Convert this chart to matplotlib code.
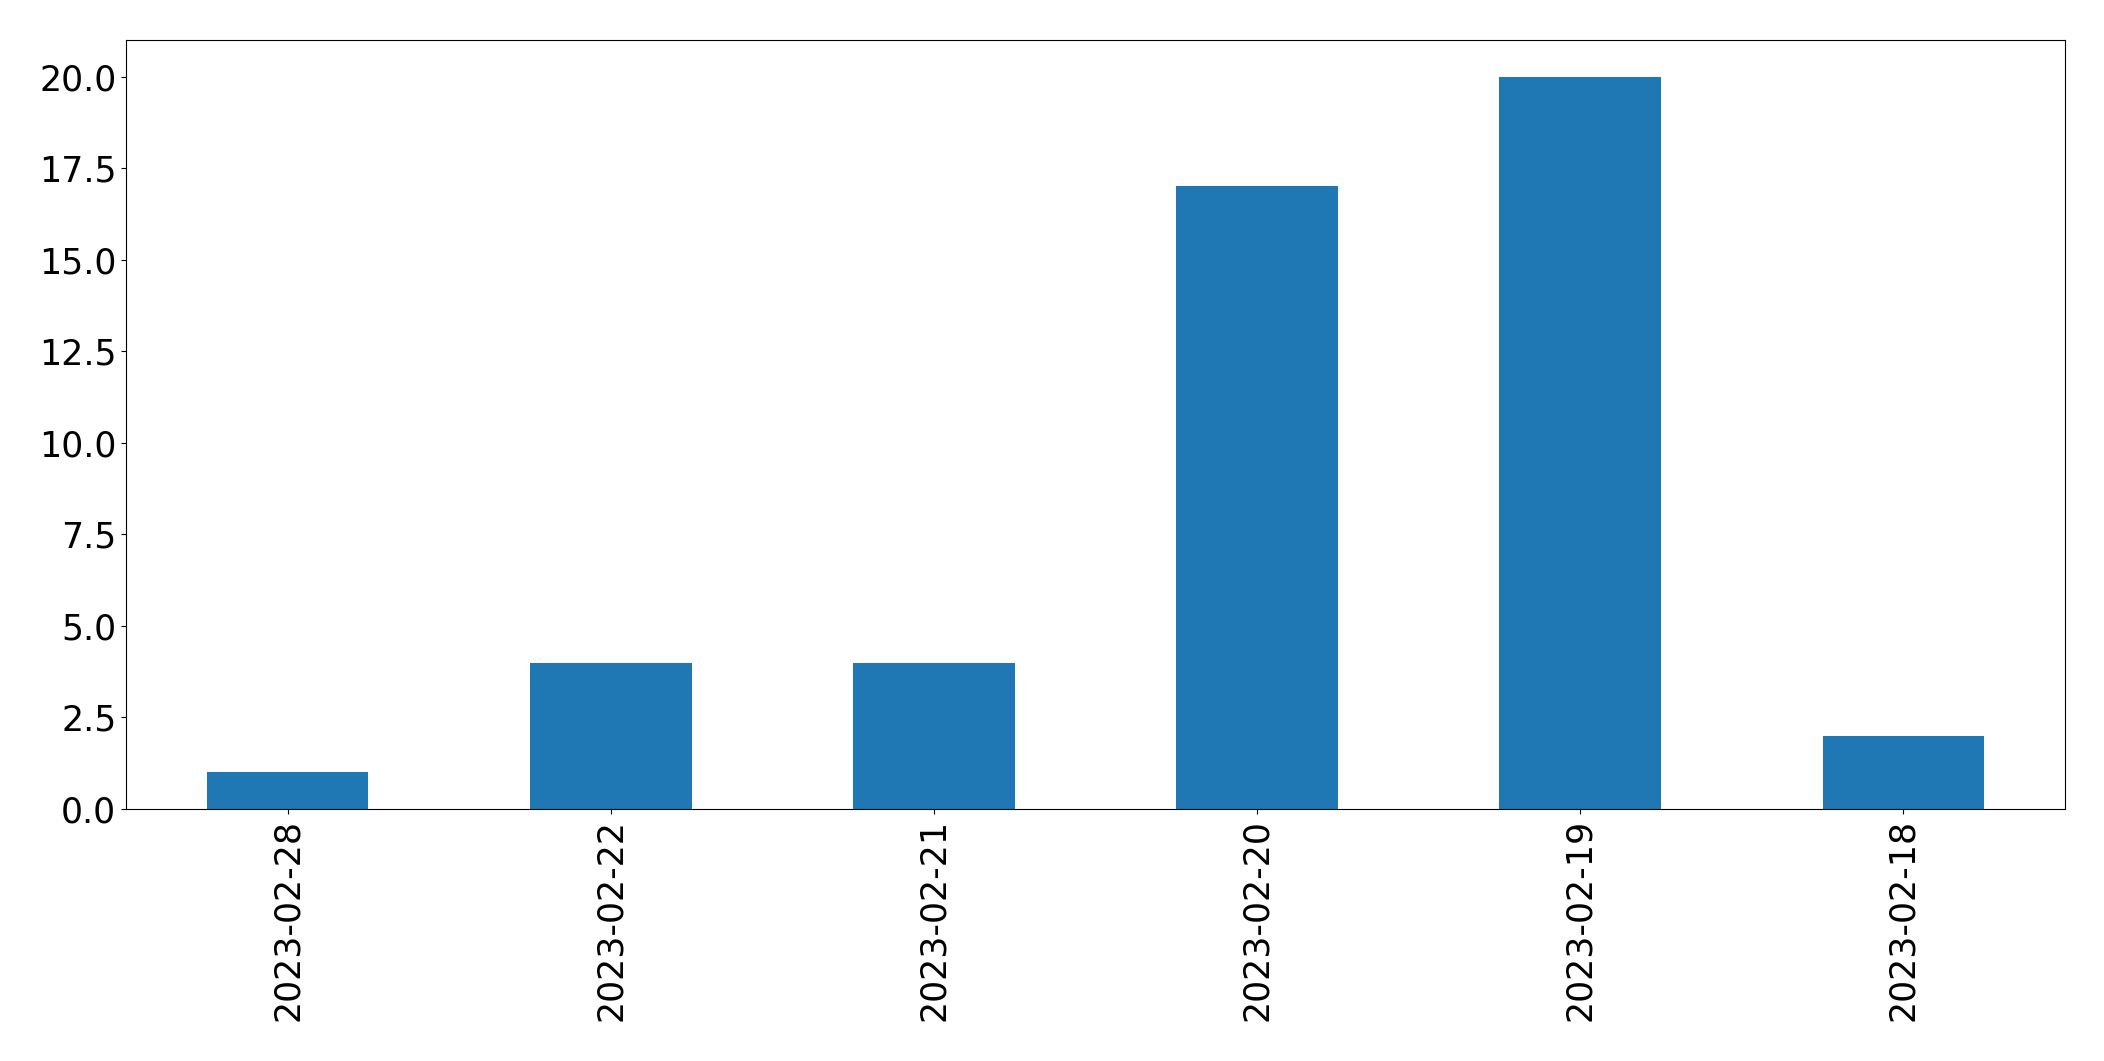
import pandas as pd
import matplotlib.pyplot as plt

# Counts per date, as shown in the chart
dates = ["2023-02-28", "2023-02-22", "2023-02-21", "2023-02-20", "2023-02-19", "2023-02-18"]
counts = [1, 4, 4, 17, 20, 2]

series = pd.Series(counts, index=dates)

fig = plt.figure(figsize=(21.04, 10.61), dpi=100)
ax = fig.add_subplot(111)
series.plot(kind="bar", ax=ax, color="#1f77b4")
ax.tick_params(axis="both", labelsize=25)
fig.subplots_adjust(left=126 / 2104, right=2065 / 2104, top=1 - 40 / 1061, bottom=1 - 809 / 1061)

plt.savefig("out.png", dpi=100)
